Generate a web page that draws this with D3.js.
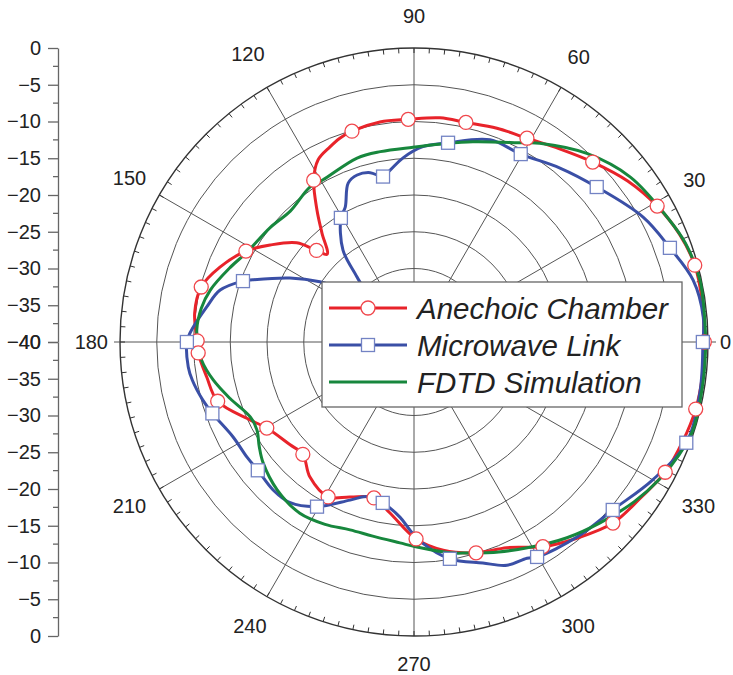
<!DOCTYPE html>
<html>
<head>
<meta charset="utf-8">
<script src="https://cdn.jsdelivr.net/npm/d3@7"></script>
<style>
  body { margin: 0; background: #fff; }
  svg { display: block; font-family: Arial, "Liberation Sans", sans-serif; }
</style>
</head>
<body>
<svg id="chart" width="733" height="675"></svg>
<script>
// series as [angle in degrees, level in dB]
var anechoic = [
  [0,-0.5],[8,-0.4],[15.3,-0.4],[22,-1.0],[29.2,-2.1],[37,-3.6],[45.2,-5.5],[53,-7.1],[61,-8.3],
  [68.8,-8.8],[76.7,-9.3],[83.4,-9.3],[91.5,-9.7],[98.8,-9.7],[106.4,-10.1],[110,-10.5],[113.3,-11.1],
  [117.8,-12.0],[121.8,-14.1],[126.3,-17.7],[130.2,-20.6],[134.7,-23.2],[136.8,-21.8],[139.8,-19.1],
  [146,-16.4],[151.6,-14.0],[158.9,-11.7],[165.5,-10.1],[172.5,-9.9],[179.7,-10.5],[182.9,-10.6],
  [189.6,-11.4],[196.8,-12.1],[205.4,-15.3],[210.3,-16.8],[219.7,-18.1],[225.3,-18.5],[232.4,-16.8],
  [241,-15.9],[247.6,-17.2],[255.6,-18.1],[262,-16.5],[270.6,-13.2],[278,-11.4],[286.4,-10.1],
  [294.3,-9.3],[302.2,-7.1],[309.7,-5.3],[317.7,-3.4],[325.4,-2.6],[332.6,-1.5],[339.9,-1.0],
  [346.6,-0.6],[353,-0.5],[360,-0.5]
];
var anechoicMarkers = [
  [0,-0.5],[15.3,-0.4],[29.2,-2.1],[45.2,-5.5],[61,-8.3],[76.7,-9.3],[91.5,-9.7],[106.4,-10.1],
  [121.8,-14.1],[136.8,-21.8],[151.6,-14.0],[165.5,-10.1],[179.7,-10.5],[182.9,-10.6],[196.8,-12.1],
  [210.3,-16.8],[225.3,-18.5],[241,-15.9],[255.6,-18.1],[270.6,-13.2],[286.4,-10.1],[302.2,-7.1],
  [317.7,-3.4],[332.6,-1.5],[346.6,-0.6]
];

var microwave = [
  [0,-0.7],[5,-0.5],[12.5,-1.1],[20.2,-2.9],[28.6,-4.5],[40.3,-7.4],[50,-9.1],[60.4,-10.6],
  [69.4,-10.6],[80.3,-12.5],[87.4,-13.4],[93.4,-14.9],[97.9,-16.4],[100.6,-17.1],[104.5,-16.2],
  [108.8,-16.0],[112.5,-16.6],[117,-19.4],[120.5,-20.4],[127.7,-24.2],[131.2,-28.2],[135,-30.5],
  [140,-30],[144,-27.5],[147.4,-24.8],[152.7,-21],[158.9,-16.5],[160.4,-15.3],[165,-12.7],
  [170.4,-11.4],[177.7,-9.5],[180,-9.1],[186.3,-9.1],[189.8,-9.4],[195.4,-10.2],[199.5,-10.9],
  [207.7,-12.2],[214.6,-12.4],[219.4,-12.5],[226.4,-12.2],[232.4,-12.4],[239.5,-14],[248,-16.8],
  [253,-18],[259,-17.7],[265.4,-16.1],[268.8,-14.4],[272,-12.8],[279.4,-10.1],[287.3,-8.5],
  [292.6,-7.1],[297.6,-6.8],[299.8,-6.3],[310,-5.4],[319.8,-4.6],[330,-2.5],[339.7,-0.5],
  [350,-0.5],[360,-0.7]
];
var microwaveMarkers = [
  [0,-0.7],[20.2,-2.9],[40.3,-7.4],[60.4,-10.6],[80.3,-12.5],[100.6,-17.1],[120.5,-20.4],[140,-30],
  [160.4,-15.3],[180,-9.1],[199.5,-10.9],[219.4,-12.5],[239.5,-14],[259,-17.7],[279.4,-10.1],
  [299.8,-6.3],[319.8,-4.6],[339.7,-0.5]
];

var fdtd = [
  [0,-0.3],[12,-0.2],[20,-0.7],[26.3,-1.6],[37.4,-3.0],[47.5,-5.2],[57.7,-8.0],[61.3,-9.1],
  [73.6,-11.6],[82,-12.8],[90.3,-13.5],[100,-13.7],[107.2,-13.8],[119.3,-14.7],[123.9,-14.6],
  [133.4,-15.5],[141.4,-15.0],[151.7,-14.2],[158,-13.0],[165.7,-11.4],[171,-10.7],[176.8,-10.4],
  [180,-10.6],[184.9,-11.0],[190.7,-12.2],[197,-13.8],[204.6,-15.5],[209.3,-15.5],[214,-14.6],
  [218.7,-13.7],[227.2,-12.6],[236.3,-12.0],[244,-12.4],[251.2,-13.0],[258,-13.0],[266,-12.6],
  [270.8,-12.1],[279.7,-10.9],[284.1,-10.4],[292,-9.2],[300.1,-7.8],[308,-6.2],[315.8,-4.7],
  [324,-3.0],[331,-1.7],[337,-0.8],[342.5,-0.2],[352.5,-0.3],[360,-0.3]
];

var angleTicks = [0, 30, 60, 90, 120, 150, 180, 210, 240, 270, 300, 330];
var ringLevels = [-35, -30, -25, -20, -15, -10, -5, 0];
var sideTicks = [0, -5, -10, -15, -20, -25, -30, -35, -40];
var legendNames = ["Anechoic Chamber", "Microwave Link", "FDTD Simulation"];

var cx = 414, cy = 342, R = 294;
var red = "#e8232a", blue = "#3a4fa6", green = "#17873d";

var svg = d3.select("#chart");

var r = d3.scaleLinear().domain([-40, 0]).range([0, R]);
var ang = d3.scaleLinear().domain([0, 360]).range([0, 2 * Math.PI]);

function px(d) { return cx + r(d[1]) * Math.cos(ang(d[0])); }
function py(d) { return cy - r(d[1]) * Math.sin(ang(d[0])); }

var g = svg.append("g");

// rings
g.selectAll(".ring")
  .data(ringLevels.slice(0, -1))
  .enter().append("circle")
    .attr("cx", cx).attr("cy", cy)
    .attr("r", function(d) { return r(d); })
    .style("fill", "none")
    .style("stroke", "#555")
    .style("stroke-width", 1);

// spokes
g.selectAll(".spoke")
  .data(angleTicks)
  .enter().append("line")
    .attr("x1", cx).attr("y1", cy)
    .attr("x2", function(d) { return px([d, 0]); })
    .attr("y2", function(d) { return py([d, 0]); })
    .style("stroke", "#555")
    .style("stroke-width", 1);

// outer circle with small ticks every 3 degrees, pointing inward
g.append("circle")
  .attr("cx", cx).attr("cy", cy).attr("r", r(0))
  .style("fill", "none").style("stroke", "#333").style("stroke-width", 1.4);

var minor = d3.range(0, 360, 3);
g.selectAll(".atick")
  .data(minor)
  .enter().append("line")
    .attr("x1", function(d) { return cx + R * Math.cos(ang(d)); })
    .attr("y1", function(d) { return cy - R * Math.sin(ang(d)); })
    .attr("x2", function(d) { return cx + (R - 5) * Math.cos(ang(d)); })
    .attr("y2", function(d) { return cy - (R - 5) * Math.sin(ang(d)); })
    .style("stroke", "#333").style("stroke-width", 1);

// little outward stubs at 0 and 180 deg
g.append("line")
  .attr("x1", cx + R).attr("y1", cy).attr("x2", cx + R + 8).attr("y2", cy)
  .style("stroke", "#555");
g.append("line")
  .attr("x1", cx - R).attr("y1", cy).attr("x2", cx - R - 6).attr("y2", cy)
  .style("stroke", "#555");

// angle labels
var alab = g.selectAll(".alab")
  .data(angleTicks)
  .enter().append("text")
    .text(function(d) { return d; })
    .style("font-size", "20px")
    .style("fill", "#222")
    .attr("text-anchor", "middle")
    .attr("dominant-baseline", "central");
alab.each(function(d) {
  var w = this.getComputedTextLength();
  var c = Math.cos(ang(d)), s = Math.sin(ang(d));
  var rr = R + 12 + Math.abs(c) * w / 2 + Math.abs(s) * 16 + (s > 0.5 ? 4 : 0);
  d3.select(this).attr("x", cx + rr * c).attr("y", cy - rr * s);
});

// left level axis, mirrored about the center
var yUp = d3.scaleLinear().domain([-40, 0]).range([cy, cy - R]);
var yDown = d3.scaleLinear().domain([-40, 0]).range([cy, cy + R]);
[yUp, yDown].forEach(function(sc) {
  var ax = svg.append("g")
    .attr("transform", "translate(58,0)")
    .call(d3.axisLeft(sc).tickValues(sideTicks).tickSize(10).tickPadding(7).tickSizeOuter(0));
  ax.select(".domain").style("stroke", "#666").style("stroke-width", 1.3);
  ax.selectAll(".tick line").style("stroke", "#666").style("stroke-width", 1.3);
  ax.selectAll(".tick text").style("font-size", "20px").style("fill", "#222")
    .style("font-family", "Arial, 'Liberation Sans', sans-serif");
  ax.selectAll(".minor")
    .data(d3.range(-37.5, 0, 5))
    .enter().append("line")
      .attr("x1", -5).attr("x2", 0)
      .attr("y1", function(d) { return sc(d); })
      .attr("y2", function(d) { return sc(d); })
      .style("stroke", "#666").style("stroke-width", 1.3);
});

// curves
var line = d3.lineRadial()
  .angle(function(d) { return Math.PI / 2 - ang(d[0]); })
  .radius(function(d) { return r(d[1]); })
  .curve(d3.curveCatmullRom.alpha(0.5));

var curves = svg.append("g").attr("transform", "translate(" + cx + "," + cy + ")");
[[anechoic, red], [microwave, blue], [fdtd, green]].forEach(function(s) {
  curves.append("path")
    .datum(s[0])
    .attr("d", line)
    .style("fill", "none")
    .style("stroke", s[1])
    .style("stroke-width", 3)
    .style("stroke-linejoin", "round");
});

svg.selectAll(".rmark")
  .data(anechoicMarkers)
  .enter().append("circle")
    .attr("cx", px).attr("cy", py).attr("r", 7)
    .style("fill", "#fff").style("stroke", "#f0474c").style("stroke-width", 1.3);

svg.selectAll(".bmark")
  .data(microwaveMarkers)
  .enter().append("rect")
    .attr("x", function(d) { return px(d) - 6.5; })
    .attr("y", function(d) { return py(d) - 6.5; })
    .attr("width", 13).attr("height", 13)
    .style("fill", "#fff").style("stroke", "#7383c4").style("stroke-width", 1.3);

// legend
var lg = svg.append("g").attr("transform", "translate(322,282)");
lg.append("rect")
  .attr("width", 360).attr("height", 125)
  .style("fill", "#fff").style("stroke", "#666").style("stroke-width", 1.3);

var colors = [red, blue, green];
legendNames.forEach(function(name, i) {
  var yy = 26 + i * 37;
  lg.append("line")
    .attr("x1", 7).attr("x2", 85).attr("y1", yy).attr("y2", yy)
    .style("stroke", colors[i]).style("stroke-width", 3);
  if (i === 0) {
    lg.append("circle").attr("cx", 46).attr("cy", yy).attr("r", 7)
      .style("fill", "#fff").style("stroke", "#f0474c").style("stroke-width", 1.3);
  } else if (i === 1) {
    lg.append("rect").attr("x", 39.5).attr("y", yy - 6.5).attr("width", 13).attr("height", 13)
      .style("fill", "#fff").style("stroke", "#7383c4").style("stroke-width", 1.3);
  }
  lg.append("text")
    .attr("x", 95).attr("y", yy)
    .attr("dominant-baseline", "central")
    .style("font-size", "29.5px")
    .style("font-style", "italic")
    .style("fill", "#222")
    .text(name);
});
</script>
</body>
</html>
